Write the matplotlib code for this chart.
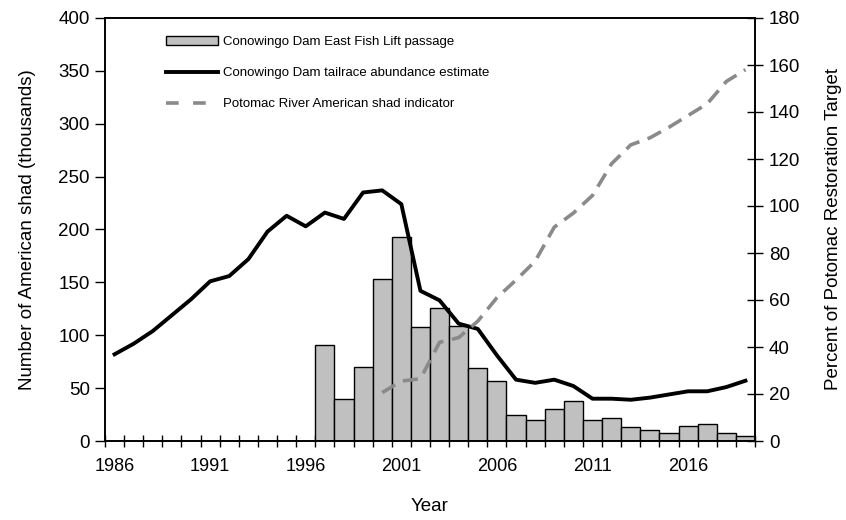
import numpy as np
import matplotlib
matplotlib.use('Agg')
import matplotlib.pyplot as plt
from matplotlib.patches import Patch
from matplotlib.lines import Line2D

plt.rcParams['font.family'] = ['Liberation Sans', 'DejaVu Sans']

# 数据（从图中读取，单位：千尾 / 百分比）
years = list(range(1986, 2020))
tailrace = [82, 92, 104, 119, 134, 151, 156, 172, 198, 213, 203, 216, 210, 235,
            237, 224, 142, 133, 111, 106, 81, 58, 55, 58, 52, 40, 40, 39, 41,
            44, 47, 47, 51, 57]
lift_years = list(range(1997, 2020))
lift_passage = [91, 40, 70, 153, 193, 108, 126, 109, 69, 57, 25, 20, 30, 38,
                20, 22, 13, 10, 8, 14, 16, 8, 5]
potomac_years = list(range(2000, 2020))
potomac_pct = [20.6, 25.5, 26.5, 42, 44, 51, 61, 68.5, 76.5, 91, 97, 104.5,
               118, 126, 129, 133.5, 138.5, 143.5, 153, 158]

label_bar = 'Conowingo Dam East Fish Lift passage'
label_tail = 'Conowingo Dam tailrace abundance estimate'
label_pot = 'Potomac River American shad indicator'

fig = plt.figure(figsize=(8.46, 5.2), dpi=100)
ax = fig.add_axes([105 / 846, 79 / 520, 650 / 846, 423 / 520])
ax2 = ax.twinx()

# 柱状图 + 实线（左轴）
ax.bar(lift_years, lift_passage, width=1.0, color='#c0c0c0',
       edgecolor='black', linewidth=1.0, zorder=2)
ax.plot(years, tailrace, color='black', linewidth=2.8, zorder=3)

# 虚线（右轴）
ax2.plot(potomac_years, potomac_pct, color='#8a8a8a', linewidth=2.6,
         dashes=(4.2, 2.4), zorder=3)

ax.set_xlim(1985.5, 2019.5)
ax.set_ylim(0, 400)
ax2.set_ylim(0, 180)
ax.set_yticks(range(0, 401, 50))
ax2.set_yticks(range(0, 181, 20))

ax.set_xticks(years[::5])
ax.set_xticks(np.arange(1985.5, 2020, 1), minor=True)
ax.tick_params(axis='x', which='major', length=0, pad=12, labelsize=13)
ax.tick_params(axis='x', which='minor', direction='inout', length=8, width=1)
ax.tick_params(axis='y', direction='out', length=7, width=1, labelsize=13.5, pad=4)
ax2.tick_params(axis='y', direction='inout', length=12, width=1, labelsize=13.5, pad=4)

for a in (ax, ax2):
    for s in a.spines.values():
        s.set_linewidth(1.2)

ax.set_xlabel('Year', fontsize=13.5, labelpad=17)
ax.set_ylabel('Number of American shad (thousands)', fontsize=13.5, labelpad=16)
ax2.set_ylabel('Percent of Potomac Restoration Target', fontsize=13.5, labelpad=18)

# 图例：柱与实线在左轴，虚线在右轴，手动合并
handles = [Patch(facecolor='#c0c0c0', edgecolor='black', linewidth=1.0),
           Line2D([], [], color='black', linewidth=2.8),
           Line2D([], [], color='#8a8a8a', linewidth=2.6, dashes=(3.5, 4.0))]
ax2.legend(handles, [label_bar, label_tail, label_pot], loc='upper left',
           bbox_to_anchor=(0.075, 0.985), frameon=False, fontsize=9.5,
           handlelength=4.0, handleheight=0.6, handletextpad=0.35,
           labelspacing=1.45)

fig.savefig('out.png', dpi=100)
